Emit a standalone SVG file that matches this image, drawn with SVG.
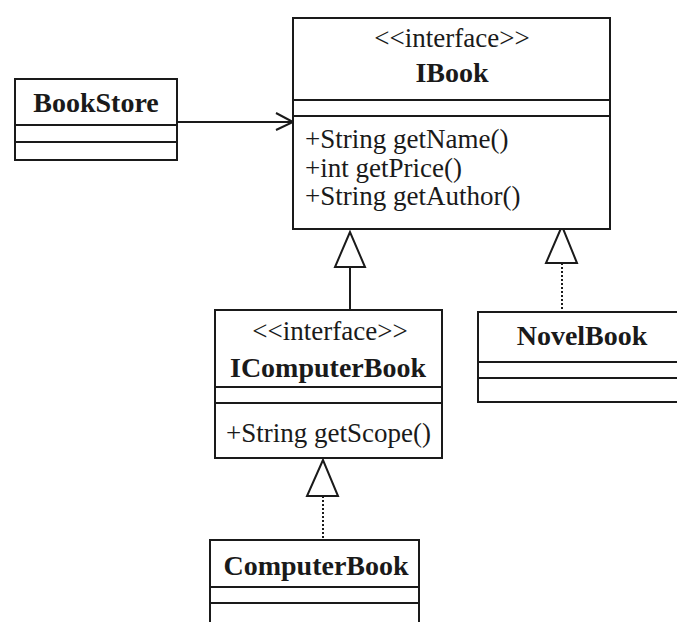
<svg xmlns="http://www.w3.org/2000/svg" width="677" height="622" viewBox="0 0 677 622">
<style>
.box{fill:#fff;stroke:#1a1a1a;stroke-width:2}
.ln{stroke:#1a1a1a;stroke-width:2;fill:none}
.dot{stroke:#1a1a1a;stroke-width:2;fill:none;stroke-dasharray:2 2}
.tri{fill:#fff;stroke:#1a1a1a;stroke-width:2;stroke-linejoin:miter}
.t{font-family:"Liberation Serif","Times New Roman",serif;font-size:27px;fill:#1a1a1a}
.b{font-family:"Liberation Serif","Times New Roman",serif;font-size:28px;font-weight:bold;fill:#1a1a1a}
</style>
<rect width="677" height="622" fill="#fff"/>
<g id="connectors">
  <line class="ln" x1="177" y1="122" x2="292" y2="122"/>
  <polyline class="ln" points="276,113 293,122 276,130"/>
  <line class="ln" x1="350" y1="267" x2="350" y2="310"/>
  <polygon class="tri" points="350,232 335,267 365,267"/>
  <line class="dot" x1="562" y1="263" x2="562" y2="312"/>
  <polygon class="tri" points="562,226 546,263 577,263"/>
  <line class="dot" x1="323" y1="496" x2="323" y2="540"/>
  <polygon class="tri" points="323,460 307,496 338,496"/>
</g>
<g id="BookStore">
  <rect class="box" x="15" y="79" width="162" height="81"/>
  <line class="ln" x1="15" y1="125" x2="177" y2="125"/>
  <line class="ln" x1="15" y1="142" x2="177" y2="142"/>
  <text class="b" x="96" y="112" text-anchor="middle">BookStore</text>
</g>
<g id="IBook">
  <rect class="box" x="293" y="18" width="317" height="211"/>
  <line class="ln" x1="293" y1="100" x2="610" y2="100"/>
  <line class="ln" x1="293" y1="116" x2="610" y2="116"/>
  <text class="t" x="452" y="47" text-anchor="middle">&lt;&lt;interface&gt;&gt;</text>
  <text class="b" x="452" y="82" text-anchor="middle">IBook</text>
  <text class="t" x="305" y="148">+String getName()</text>
  <text class="t" x="305" y="177">+int getPrice()</text>
  <text class="t" x="305" y="205">+String getAuthor()</text>
</g>
<g id="IComputerBook">
  <rect class="box" x="215" y="310" width="227" height="148"/>
  <line class="ln" x1="215" y1="387" x2="442" y2="387"/>
  <line class="ln" x1="215" y1="403" x2="442" y2="403"/>
  <text class="t" x="330" y="340" text-anchor="middle">&lt;&lt;interface&gt;&gt;</text>
  <text class="b" x="328" y="377" text-anchor="middle">IComputerBook</text>
  <text class="t" x="226" y="442">+String getScope()</text>
</g>
<g id="NovelBook">
  <rect class="box" x="478" y="312" width="220" height="90"/>
  <line class="ln" x1="478" y1="362" x2="698" y2="362"/>
  <line class="ln" x1="478" y1="378" x2="698" y2="378"/>
  <text class="b" x="582" y="345" text-anchor="middle">NovelBook</text>
</g>
<g id="ComputerBook">
  <rect class="box" x="210" y="540" width="209" height="100"/>
  <line class="ln" x1="210" y1="587" x2="419" y2="587"/>
  <line class="ln" x1="210" y1="603" x2="419" y2="603"/>
  <text class="b" x="316" y="575" text-anchor="middle">ComputerBook</text>
</g>
</svg>
